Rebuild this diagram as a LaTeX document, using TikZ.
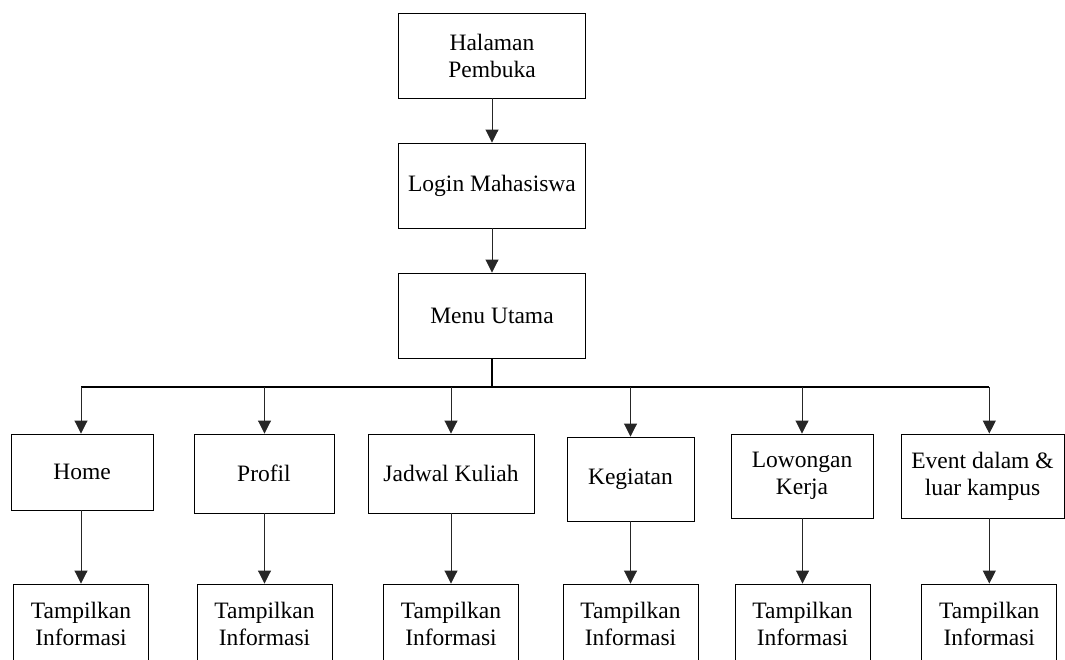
\documentclass[tikz,border=0pt]{standalone}
\usepackage{fontspec}
\setmainfont{Liberation Serif}
\usetikzlibrary{arrows.meta}
\begin{document}
\begin{tikzpicture}[x=1pt,y=-1pt,
  box/.style={draw=black, line width=0.9pt, inner sep=0pt, align=center,
              font=\fontsize{23.5}{27}\selectfont},
  arr/.style={draw=black!85, line width=0.9pt, -{Triangle[length=13pt,width=13pt]}},
  bus/.style={draw=black, line width=1.5pt}]
\useasboundingbox (0,0) rectangle (1065,659);
\clip (0,0) rectangle (1065,659);

% main chain
\node[box, minimum width=187pt, minimum height=85pt] (hal)   at (492,55.5)  {Halaman\\Pembuka};
\node[box, minimum width=187pt, minimum height=85pt] (login) at (492,185.5) {Login Mahasiswa};
\node[box, minimum width=187pt, minimum height=85pt] (menu)  at (492,315.5) {Menu Utama};

\draw[arr] (hal) -- (login);
\draw[arr] (login) -- (menu);

% menu items
\node[box, minimum width=142pt, minimum height=76pt] (home)     at (82,472)    {Home};
\node[box, minimum width=140pt, minimum height=79pt] (profil)   at (264,473.5) {Profil};
\node[box, minimum width=166pt, minimum height=79pt] (jadwal)   at (451,473.5) {Jadwal Kuliah};
\node[box, minimum width=127pt, minimum height=84pt] (kegiatan) at (630.5,479) {Kegiatan};
\node[box, minimum width=142pt, minimum height=84pt] (lowongan) at (802,476)   {Lowongan\\Kerja};
\node[box, minimum width=163pt, minimum height=84pt] (event)    at (982.5,476) {Event dalam \&\\luar kampus};

% result boxes
\foreach \n/\x in {t1/81, t2/264.5, t3/451, t4/630.5, t5/802.5, t6/989.3}
  \node[box, minimum width=135pt, minimum height=80pt] (\n) at (\x,624) {Tampilkan\\Informasi};

% distribution bus
\coordinate (b1) at (81,387);
\coordinate (b2) at (264.5,387);
\coordinate (b3) at (451,387);
\coordinate (b4) at (630.5,387);
\coordinate (b5) at (802,387);
\coordinate (b6) at (989.3,387);
\draw[bus] (menu.south) -- (menu.south |- b1);
\draw[bus] (b1) -- (b6);

\draw[arr] (b1) -- (b1 |- home.north);
\draw[arr] (b2) -- (b2 |- profil.north);
\draw[arr] (b3) -- (b3 |- jadwal.north);
\draw[arr] (b4) -- (b4 |- kegiatan.north);
\draw[arr] (b5) -- (b5 |- lowongan.north);
\draw[arr] (b6) -- (b6 |- event.north);

\draw[arr] (t1.north |- home.south)     -- (t1.north);
\draw[arr] (t2.north |- profil.south)   -- (t2.north);
\draw[arr] (t3.north |- jadwal.south)   -- (t3.north);
\draw[arr] (t4.north |- kegiatan.south) -- (t4.north);
\draw[arr] (t5.north |- lowongan.south) -- (t5.north);
\draw[arr] (t6.north |- event.south)    -- (t6.north);
\end{tikzpicture}
\end{document}
